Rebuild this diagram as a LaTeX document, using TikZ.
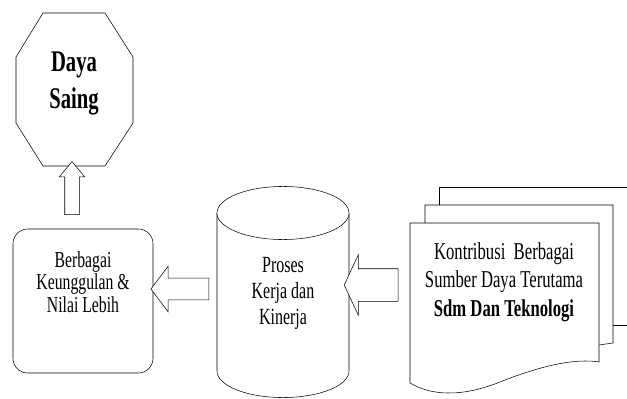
\documentclass[tikz,border=0pt]{standalone}
\usepackage{fontspec}
\usepackage{graphicx}
\setmainfont{Liberation Serif}
\usetikzlibrary{shapes.arrows}

% text in the reference is stretched upwards
\newcommand{\tallbox}[1]{\scalebox{1}[1.45]{\begin{tabular}{@{}c@{}}#1\end{tabular}}}

\begin{document}
\begin{tikzpicture}[
  x=0.75pt,y=-0.75pt,
  box/.style={draw=black,fill=white,thin},
  txt/.style={inner sep=0pt},
  blockarrow/.style={single arrow,draw=black,fill=white,thin,inner xsep=0pt,
    single arrow head indent=0pt}]

  \useasboundingbox (0,0) rectangle (627,399);
  \clip (0,0) rectangle (627,399);

  % Daya Saing (octagon)
  \draw[box] (43,13) -- (105,13) -- (133,57) -- (133,123) -- (105,166)
    -- (43,166) -- (16,123) -- (16,57) -- cycle;
  \node[txt,font=\fontsize{15.5}{19}\selectfont\bfseries] (saing) at (74,83)
    {\tallbox{Daya\\Saing}};

  % Berbagai Keunggulan
  \node[box,rounded corners=11pt,minimum width=105pt,minimum height=108pt]
    (lebih) at (83,301) {};
  \node[txt,font=\fontsize{11.8}{11.3}\selectfont] (lebihtxt) at (83,285)
    {\tallbox{Berbagai\\Keunggulan \&\\Nilai Lebih}};

  % Proses (cylinder)
  \draw[box] (217,213) -- (217,371)
    arc[start angle=180,end angle=360,x radius=49.5pt,y radius=19.9pt] -- (349,213);
  \draw[box] (283,213) ellipse [x radius=49.5pt,y radius=19.9pt];
  \node[txt,font=\fontsize{12}{13.5}\selectfont] (proses) at (283,293)
    {\tallbox{Proses\\Kerja dan\\Kinerja}};

  % Kontribusi (stack of pages)
  \draw[box] (439,187) rectangle (660,325);
  \draw[box] (425,205) -- (613,205) -- (613,343) -- (599,345) -- (425,365) -- cycle;
  \draw[box] (410,223) -- (599,223) -- (599,362)
    .. controls (575,358) and (540,366) .. (500,382)
    .. controls (460,398) and (430,395) .. (410,383) -- cycle;
  \node[txt,font=\fontsize{12.5}{14.8}\selectfont] (kontri) at (504,282)
    {\tallbox{Kontribusi~ Berbagai\\Sumber Daya Terutama\\\textbf{Sdm Dan Teknologi}}};

  % block arrows
  \node[blockarrow,rotate=90,minimum height=39.75pt,inner ysep=5.25pt,
    single arrow head extend=4.1pt,single arrow tip angle=80] (upar) at (72,192.5) {};
  \node[blockarrow,rotate=180,minimum height=43.5pt,inner ysep=7.9pt,
    single arrow head extend=9pt,single arrow tip angle=106] (leftar) at (184,289) {};
  \node[blockarrow,rotate=180,minimum height=40.5pt,inner ysep=12pt,
    single arrow head extend=10.5pt,single arrow tip angle=130] (inar) at (375,285) {};
\end{tikzpicture}
\end{document}
